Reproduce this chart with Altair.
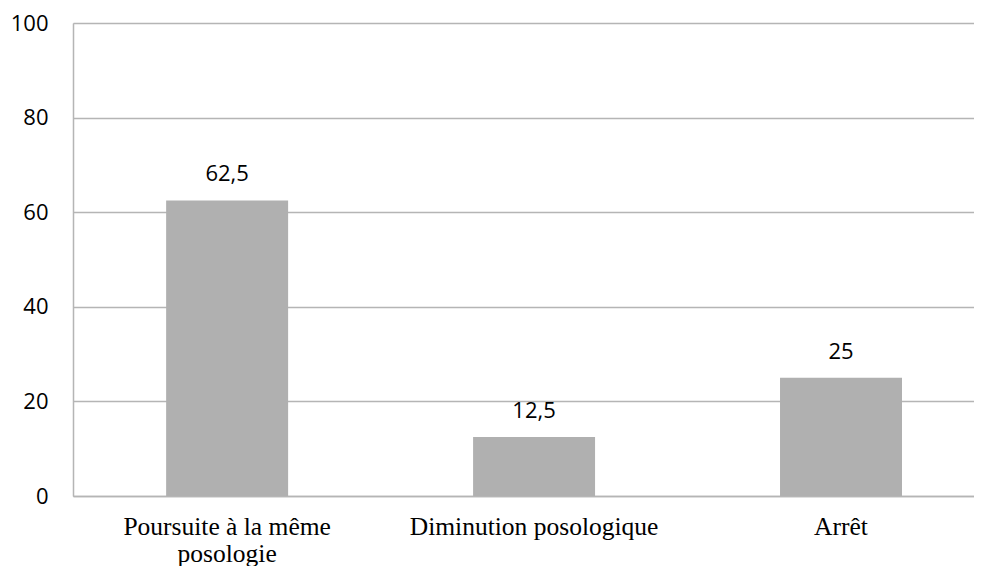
import altair as alt
import pandas as pd

categories = ["Poursuite à la même posologie", "Diminution posologique", "Arrêt"]
values = [62.5, 12.5, 25]
y_ticks = [0, 20, 40, 60, 80, 100]

df = pd.DataFrame({"cat": categories, "val": values})

grid = "#B5B5B5"
bar_color = "#B0B0B0"

x_enc = alt.X(
    "cat:N",
    sort=categories,
    title=None,
    scale=alt.Scale(paddingInner=0.6026, paddingOuter=0.269, align=0.564),
    axis=alt.Axis(
        labelAngle=0,
        labelFont="Liberation Serif",
        labelFontSize=25.5,
        labelColor="#000000",
        labelLineHeight=27,
        labelPadding=18,
        labelBaseline="top",
        ticks=False,
        domainColor=grid,
        domainWidth=1.5,
        labelLimit=400,
        labelExpr="datum.value == 'Poursuite à la même posologie' ? ['Poursuite à la même', 'posologie'] : datum.value",
    ),
)

y_enc = alt.Y(
    "val:Q",
    title=None,
    scale=alt.Scale(domain=[0, 100], nice=False),
    axis=alt.Axis(
        values=y_ticks,
        labelFont="Open Sans",
        labelFontSize=22,
        labelColor="#000000",
        labelPadding=25,
        ticks=False,
        domainColor=grid,
        domainWidth=1.5,
        gridColor=grid,
        gridWidth=1.5,
        grid=True,
    ),
)

bars = alt.Chart(df).mark_bar(color=bar_color).encode(x=x_enc, y=y_enc)

labels = (
    alt.Chart(df)
    .transform_calculate(lab="replace(toString(datum.val), '.', ',')")
    .mark_text(font="Open Sans", fontSize=22, color="#000000", baseline="alphabetic", dy=-19)
    .encode(x=alt.X("cat:N", sort=categories), y="val:Q", text="lab:N")
)

chart = (
    alt.layer(bars, labels)
    .properties(
        width=901,
        height=473,
        autosize=alt.AutoSizeParams(type="none"),
        padding={"left": 65, "top": 15, "right": 0, "bottom": 70},
    )
    .configure_view(stroke=None)
    .configure(background="white")
)

chart.save("out.html", embed_options={"renderer": "svg", "actions": False})
